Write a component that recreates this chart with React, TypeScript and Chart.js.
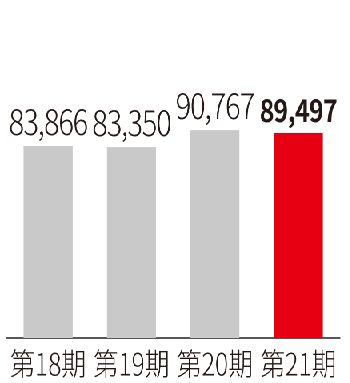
import React, { useEffect, useRef } from "react";
import { Chart, registerables } from "chart.js";

Chart.register(...registerables);

// Fiscal periods and their figures
const periods: string[] = ["第18期", "第19期", "第20期", "第21期"];
const values: number[] = [83866, 83350, 90767, 89497];
const barColors: string[] = ["#c9c9c9", "#c9c9c9", "#c9c9c9", "#e60012"];
const highlightIndex = 3;

const TEXT = "#231815";
const FONT = "'Noto Sans CJK JP', 'Noto Sans', sans-serif";

// The chart is laid out on a wider canvas and squeezed horizontally,
// giving the narrow lettering of the printed figure.
const VIEW_W = 350;
const VIEW_H = 383;
const SQUEEZE = 0.8;
const CANVAS_W = VIEW_W / SQUEEZE;

const valueLabels = {
  id: "valueLabels",
  afterDatasetsDraw(chart: Chart) {
    const { ctx } = chart;
    const meta = chart.getDatasetMeta(0);
    meta.data.forEach((bar: any, i: number) => {
      const bold = i === highlightIndex;
      ctx.save();
      ctx.fillStyle = TEXT;
      ctx.font = bold ? `700 31px ${FONT}` : `300 36px ${FONT}`;
      (ctx as any).letterSpacing = bold ? "-0.8px" : "-1.2px";
      ctx.textAlign = "center";
      ctx.textBaseline = "alphabetic";
      ctx.fillText(values[i].toLocaleString("en-US"), bar.x, bar.y - 11);
      ctx.restore();
    });
  },
};

export default function App() {
  const canvasRef = useRef<HTMLCanvasElement | null>(null);

  useEffect(() => {
    if (!canvasRef.current) return;
    const chart = new Chart(canvasRef.current, {
      type: "bar",
      data: {
        labels: periods,
        datasets: [
          {
            data: values,
            backgroundColor: barColors,
            borderWidth: 0,
            barPercentage: 0.59,
            categoryPercentage: 1,
          },
        ],
      },
      options: {
        animation: false,
        responsive: true,
        maintainAspectRatio: false,
        devicePixelRatio: 2,
        layout: { padding: { top: 109, left: 8, right: 13, bottom: 0 } },
        plugins: {
          legend: { display: false },
          tooltip: { enabled: false },
        },
        scales: {
          x: {
            grid: { display: false, drawTicks: false },
            border: { display: true, color: "#595757", width: 2 },
            ticks: {
              color: TEXT,
              padding: 7,
              maxRotation: 0,
              minRotation: 0,
              autoSkip: false,
              font: { family: FONT, size: 31, weight: 300 as any },
            },
            afterFit(scale: any) {
              scale.height = 45;
              scale.paddingLeft = 0;
              scale.paddingRight = 0;
            },
          },
          y: {
            display: false,
            min: 0,
            max: 100000,
          },
        },
      },
      plugins: [valueLabels],
    });
    return () => chart.destroy();
  }, []);

  return (
    <div
      style={{
        position: "fixed",
        left: 0,
        top: 0,
        width: CANVAS_W,
        height: VIEW_H,
        transform: `scaleX(${SQUEEZE})`,
        transformOrigin: "0 0",
        background: "#ffffff",
      }}
    >
      <canvas ref={canvasRef} />
    </div>
  );
}
